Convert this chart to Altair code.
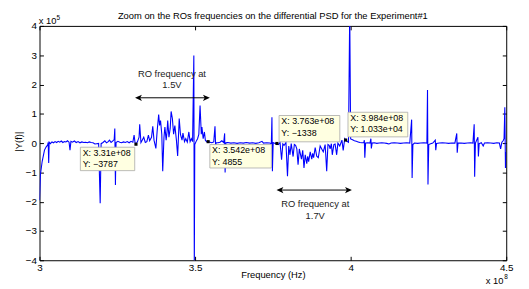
import altair as alt
import pandas as pd

# ---------------- data (frequency in MHz, |Y(f)| raw units) ----------------
freq_mhz = [
    300.0, 300.3, 300.85, 301.6, 302.2, 302.6, 302.8, 302.95, 303.1, 303.5,
    304.0, 304.5, 305.0, 305.5, 306.0, 306.5, 307.0, 307.5, 308.0, 308.5,
    309.0, 309.5, 309.8, 310.1, 310.6, 311.2, 311.8, 312.4, 313.0, 313.6,
    314.2, 314.8, 315.4, 316.0, 316.6, 317.2, 317.8, 318.4, 319.0, 319.5,
    319.8, 320.4, 321.0, 321.5, 322.0, 322.5, 323.0, 323.5, 324.0, 324.2,
    324.4, 324.6, 325.2, 325.8, 326.4, 327.0, 327.6, 328.2, 328.8, 329.4,
    330.0, 330.4, 330.7, 331.0, 331.5, 332.0, 332.2, 332.6, 333.0, 333.5,
    334.0, 334.5, 335.0, 335.4, 336.0, 336.4, 336.8, 337.4, 337.8, 338.3,
    338.6, 338.9, 339.3, 339.6, 340.0, 340.3, 340.7, 341.0, 341.2, 341.6,
    342.0, 342.3, 342.7, 343.1, 343.5, 344.0, 344.4, 344.9, 345.3, 345.8,
    346.1, 346.6, 347.0, 347.5, 348.0, 348.4, 348.8, 349.2, 349.6, 349.75,
    349.9, 350.3, 350.8, 351.2, 351.6, 352.0, 352.2, 352.6, 353.0, 353.3,
    353.7, 354.2, 354.8, 355.4, 356.0, 356.4, 356.6, 356.8, 357.4, 358.0,
    358.6, 359.2, 359.5, 359.65, 359.9, 360.5, 361.5, 362.5, 363.5, 364.5,
    365.5, 366.5, 367.5, 368.5, 369.5, 370.5, 371.5, 372.0, 373.0, 374.0,
    374.5, 374.7, 374.85, 375.1, 375.7, 376.3, 376.8, 377.3, 377.8, 378.2,
    378.6, 379.2, 379.7, 380.1, 380.5, 380.9, 381.5, 381.9, 382.3, 382.7,
    383.1, 383.5, 383.8, 384.2, 384.6, 385.0, 385.4, 385.9, 386.2, 386.5,
    387.0, 387.5, 387.8, 388.1, 388.6, 389.1, 389.6, 390.2, 390.7, 391.2,
    391.8, 392.3, 392.7, 393.1, 393.4, 393.8, 394.1, 394.6, 395.0, 395.5,
    395.9, 396.5, 397.2, 397.6, 398.1, 398.4, 398.8, 399.3, 399.7, 400.0,
    400.6, 401.2, 401.8, 402.4, 403.0, 403.6, 404.2, 404.4, 404.55, 404.8,
    405.5, 406.2, 406.5, 406.65, 406.9, 407.6, 408.4, 409.2, 410.0, 410.8,
    411.6, 412.3, 413.0, 414.0, 415.0, 416.0, 417.0, 418.0, 419.0, 419.6,
    419.75, 420.0, 420.5, 421.5, 422.5, 423.5, 424.5, 424.7, 424.85, 425.1,
    425.7, 426.4, 427.2, 427.35, 427.6, 428.5, 429.5, 430.5, 431.5, 432.5,
    433.5, 434.1, 434.25, 434.5, 435.5, 436.5, 437.5, 438.5, 439.3, 439.7,
    439.85, 440.1, 440.9, 441.05, 441.3, 442.0, 442.6, 443.0, 444.0, 445.0,
    446.0, 447.0, 447.8, 448.2, 448.6, 449.0, 449.3, 449.55, 449.75, 450.0,
]
psd = [
    -195000, -107000, -63000, -24000, -12000, -7000, 2000, -68000, 3000, -2000,
    4000, 1000, 5000, 2000, 6000, 3000, 7000, 2000, 5000, 4000,
    8000, 3000, -24000, 6000, 3000, 7000, 2000, 5000, 1000, 4000,
    2000, 3000, 1000, 4000, 2000, 1000, -3000, -2000, -1000, -205000,
    -2000, 2000, 8000, 1000, 4000, 10000, 2000, 7000, 12000, 50000,
    -143000, 2000, 6000, 3000, 1000, 4000, 2000, 5000, 1000, 6000,
    3000, 27000, 2000, -3787, 5000, 20000, 64000, 2000, 10000, 20000,
    2000, 5000, 27000, 8000, 20000, 57000, 10000, -18000, 40000, 97000,
    60000, 77000, 30000, -96000, 20000, 55000, 10000, 40000, 77000, 20000,
    50000, 108000, 84000, 30000, 60000, 10000, -44000, 84000, 30000, 10000,
    34000, 5000, 15000, 3000, 38000, 5000, 15000, 5000, 299000, -430000,
    -5000, 5000, 15000, 30000, 128000, 30000, 55000, 15000, 38000, 10000,
    5000, 4855, 3000, 1000, 4000, 57000, -10000, 2000, 1000, 3000,
    8000, 2000, 33000, -100000, 1000, 2000, 0, 1000, -1000, 1000,
    0, 2000, 0, 1000, -1000, 1000, 6000, 0, 1000, 0,
    -2000, 88000, -96000, 2000, -1000, -1338, -5000, 2000, -57000, -3000,
    -8000, 2000, -113000, -10000, -40000, -2000, -46000, -5000, -8000, -20000,
    -74000, -20000, -35000, -55000, -25000, -85000, -40000, -70000, -45000, -63000,
    -30000, -55000, -35000, -50000, -15000, -45000, -50000, -10000, -20000, -30000,
    -5000, -96000, -5000, -8000, -20000, -2000, -40000, -5000, -3000, -40000,
    0, -10000, 10000, -25000, 15000, 10330, 6000, 3000, 450000, 14000,
    11000, 8000, 6000, 4000, 2000, 1000, 1000, 10000, -50000, 0,
    1000, 0, 15000, -18000, 0, 1000, -1000, 0, 1000, 0,
    -1000, -3000, 0, 1000, 0, -1000, 0, 1000, 0, 80000,
    -119000, -5000, 0, -1000, 0, 1000, 0, 181000, -141000, -5000,
    -2000, 0, 10000, -24000, -1000, 0, 1000, 0, -1000, 0,
    0, 33000, -33000, 0, 0, -1000, 0, 1000, 0, 64000,
    -115000, 0, 20000, -46000, -2000, 1000, -10000, 0, 1000, 0,
    -1000, 1000, 0, -20000, 3000, 8000, 15000, 122000, -85000, -30000,
]

x_ticks = [300, 350, 400, 450]
y_ticks = [-400000, -300000, -200000, -100000, 0, 100000, 200000, 300000, 400000]

tip_freq_mhz = [331.0, 354.2, 376.3, 398.4]
tip_psd = [-3787, 4855, -1338, 10330]
tip_line1 = ["X: 3.31e+08", "X: 3.542e+08", "X: 3.763e+08", "X: 3.984e+08"]
tip_line2 = ["Y: \u22123787", "Y: 4855", "Y: \u22121338", "Y: 1.033e+04"]

title_text = "Zoom on the ROs frequencies on the differential PSD for the Experiment#1"
x_title = "Frequency (Hz)"
y_title = "|Y(f)|"
ro_labels = [["RO frequency at", "1.5V"], ["RO frequency at", "1.7V"]]

# ---------------- layout (pixels, relative to plot area) ----------------
W, H = 474, 238
FONT = "Liberation Sans"

tip_boxes = [  # x, x2, y, y2
    (41.5, 96.7, 123.2, 147.0),
    (173.0, 235.5, 120.5, 144.3),
    (243.3, 305.0, 91.0, 117.7),
    (313.3, 374.0, 87.7, 112.7),
]
arrows = [  # x1, x2, y
    (97.0, 173.0, 73.0),
    (240.7, 317.3, 166.7),
]
ro_text_pos = [(134.5, 51.5), (280.0, 183.7)]

df = pd.DataFrame({"f": freq_mhz, "v": psd})
tips = pd.DataFrame({"f": tip_freq_mhz, "v": tip_psd})
one = tips.head(1)

xscale = alt.Scale(domain=[300, 450], nice=False, zero=False)
yscale = alt.Scale(domain=[-400000, 400000], nice=False, zero=False)

common_axis = dict(
    domain=False, grid=False, title=None, tickColor="black", tickWidth=1,
    tickSize=4, offset=-4, labelFont=FONT, labelFontSize=10, labelColor="black",
    labelFlush=False, labelOverlap=False,
)

x_bottom = alt.Axis(orient="bottom", values=x_ticks, labelExpr="datum.value/100",
                    labelPadding=2, **common_axis)
y_left = alt.Axis(orient="left", values=y_ticks,
                  labelExpr="format(datum.value/100000, 'd')", labelPadding=3,
                  **common_axis)
x_top = alt.Axis(orient="top", values=x_ticks, labels=False, **common_axis)
y_right = alt.Axis(orient="right", values=y_ticks, labels=False, **common_axis)

line = alt.Chart(df).mark_line(color="#0000ff", strokeWidth=1.1, clip=True).encode(
    x=alt.X("f:Q", scale=xscale, axis=x_bottom),
    y=alt.Y("v:Q", scale=yscale, axis=y_left),
    order="f:Q",
)
mirror = alt.Chart(tips).mark_point(opacity=0).encode(
    x=alt.X("f:Q", scale=xscale, axis=x_top),
    y=alt.Y("v:Q", scale=yscale, axis=y_right),
)

layers = [line, mirror]

# data tip boxes
for i, (bx, bx2, by, by2) in enumerate(tip_boxes):
    layers.append(
        alt.Chart(one).mark_rect(fill="#ffffe1", stroke="#a8a8a8", strokeWidth=0.8).encode(
            x=alt.value(bx), x2=alt.value(bx2), y=alt.value(by), y2=alt.value(by2)
        )
    )
    layers.append(
        alt.Chart(one).mark_text(align="left", baseline="middle", font=FONT,
                                 fontSize=9, color="black").encode(
            x=alt.value(bx + 2.3), y=alt.value(by + 6.0), text=alt.value(tip_line1[i])
        )
    )
    layers.append(
        alt.Chart(one).mark_text(align="left", baseline="middle", font=FONT,
                                 fontSize=9, color="black").encode(
            x=alt.value(bx + 2.3), y=alt.value(by + 17.3), text=alt.value(tip_line2[i])
        )
    )

# data tip markers
layers.append(
    alt.Chart(tips).mark_square(size=10, color="black", opacity=1).encode(
        x=alt.X("f:Q", scale=xscale, axis=None), y=alt.Y("v:Q", scale=yscale, axis=None)
    )
)

# arrows
left_head = "M0,0 L1,-0.45 L0.75,0 L1,0.45 Z"
right_head = "M0,0 L-1,-0.45 L-0.75,0 L-1,0.45 Z"
for (ax1, ax2, ay) in arrows:
    layers.append(
        alt.Chart(one).mark_rule(color="black", strokeWidth=1).encode(
            x=alt.value(ax1 + 3), x2=alt.value(ax2 - 3), y=alt.value(ay)
        )
    )
    layers.append(
        alt.Chart(one).mark_point(shape=left_head, size=196, filled=True,
                                  color="black", opacity=1).encode(
            x=alt.value(ax1), y=alt.value(ay)
        )
    )
    layers.append(
        alt.Chart(one).mark_point(shape=right_head, size=196, filled=True,
                                  color="black", opacity=1).encode(
            x=alt.value(ax2), y=alt.value(ay)
        )
    )

# RO frequency labels
for (tx, ty), lines in zip(ro_text_pos, ro_labels):
    for k, s in enumerate(lines):
        layers.append(
            alt.Chart(one).mark_text(align="center", baseline="alphabetic", font=FONT,
                                     fontSize=9.5, color="#222222").encode(
                x=alt.value(tx), y=alt.value(ty + 12 * k), text=alt.value(s)
            )
        )

def label(txt, x, y, size, align="left", angle=0, baseline="alphabetic"):
    return alt.Chart(one).mark_text(align=align, baseline=baseline, font=FONT,
                                    fontSize=size, color="black", angle=angle).encode(
        x=alt.value(x), y=alt.value(y), text=alt.value(txt)
    )

layers += [
    label(title_text, W / 2, -7.3, 9.5, align="center"),
    label(x_title, 237.5, 256.0, 9.5, align="center"),
    label(y_title, -21.0, 117.5, 9.5, align="center", angle=270, baseline="middle"),
    label("x 10", -0.7, -2.3, 9.5),
    label("5", 17.3, -5.5, 6.5),
    label("x 10", 453.3, 261.7, 9.5),
    label("8", 472.0, 257.0, 6.5),
]

chart = alt.layer(*layers).resolve_axis(x="independent", y="independent").properties(
    width=W, height=H,
    autosize=alt.AutoSizeParams(type="none"),
    padding={"left": 32, "top": 16, "right": 15, "bottom": 27},
    background="white",
).configure_view(stroke="black", strokeWidth=1)

chart.save("out.html", embed_options={"renderer": "svg", "actions": False})
